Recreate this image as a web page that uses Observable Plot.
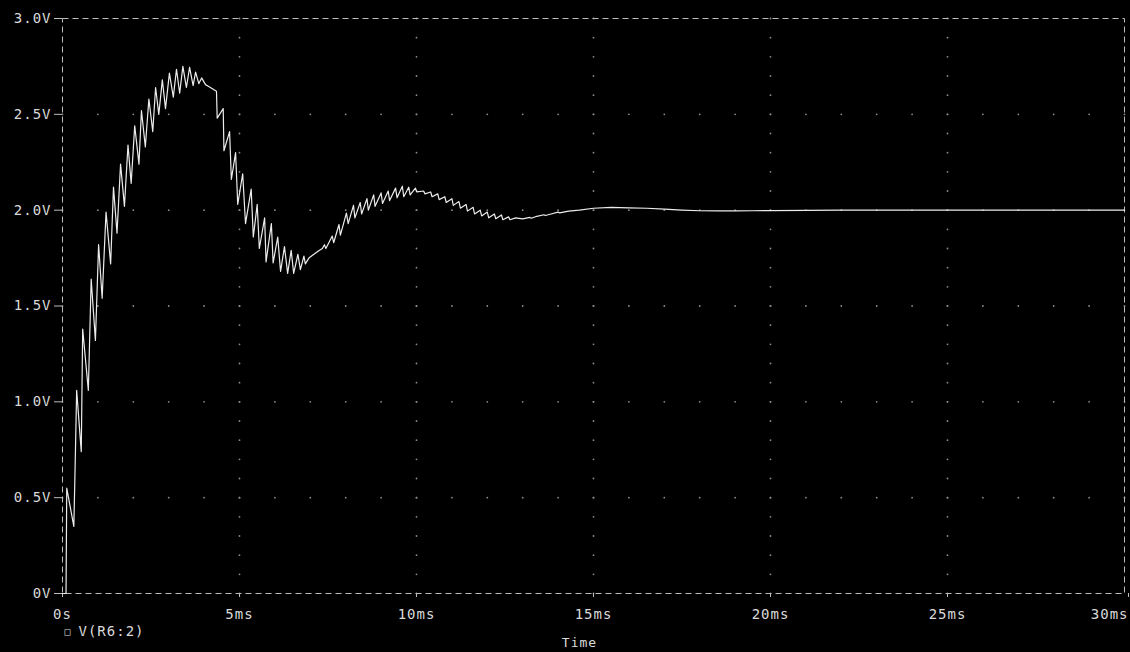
<!DOCTYPE html>
<html><head><meta charset="utf-8">
<script src="https://cdn.jsdelivr.net/npm/d3@7"></script>
<script src="https://cdn.jsdelivr.net/npm/@observablehq/plot@0.6"></script>
<style>
html,body{margin:0;padding:0;background:#000;}
#chart{width:1130px;height:652px;overflow:hidden;background:#000;}
</style></head><body><div id="chart"></div>
<script>
// ---- data ----
const timeMs = [
  0, 0.10, 0.12, 0.32, 0.36, 0.40, 0.53, 0.57, 0.73, 0.81, 0.93,
  1.02, 1.12, 1.23, 1.36, 1.44, 1.54, 1.64, 1.75, 1.85, 1.94,
  2.04, 2.16, 2.23, 2.34, 2.44, 2.55, 2.63, 2.72, 2.82, 2.91,
  3.02, 3.13, 3.22, 3.31, 3.40, 3.50, 3.59, 3.69, 3.76, 3.85, 3.93,
  4.04, 4.13, 4.35, 4.37, 4.54, 4.56, 4.72, 4.77, 4.89, 4.95,
  5.09, 5.17, 5.33, 5.39, 5.50, 5.56, 5.71, 5.75, 5.90, 5.95,
  6.08, 6.16, 6.27, 6.36, 6.46, 6.53, 6.65, 6.72, 6.82, 6.86, 6.96,
  7.10, 7.25, 7.34, 7.40, 7.44, 7.62, 7.66, 7.81, 7.85,
  8.02, 8.07, 8.22, 8.26, 8.41, 8.45, 8.60, 8.64, 8.79, 8.83,
  9.00, 9.04, 9.20, 9.24, 9.41, 9.45, 9.60, 9.64, 9.78, 9.82, 9.97,
  10.01, 10.20, 10.24, 10.40, 10.44, 10.60, 10.64, 10.80, 10.84,
  11.00, 11.04, 11.20, 11.24, 11.40, 11.44, 11.60, 11.64, 11.80, 11.84,
  12.00, 12.04, 12.20, 12.24, 12.40, 12.44, 12.60, 12.64, 12.80,
  13.00, 13.20, 13.24, 13.40, 13.60, 13.64, 13.80, 14.00, 14.04, 14.30, 14.60,
  15.00, 15.50, 16.00, 16.50, 17.00, 17.50, 18.00, 18.50,
  19.00, 19.50, 20.00, 21.00, 22.00, 30.00
];
const voltage = [
  0, 0, 0.55, 0.35, 0.69, 1.06, 0.74, 1.38, 1.06, 1.64, 1.32,
  1.82, 1.54, 1.99, 1.72, 2.12, 1.88, 2.24, 2.02, 2.34, 2.14,
  2.44, 2.24, 2.52, 2.33, 2.58, 2.41, 2.64, 2.50, 2.68, 2.53,
  2.715, 2.59, 2.735, 2.61, 2.75, 2.64, 2.745, 2.65, 2.72, 2.66, 2.69,
  2.655, 2.645, 2.62, 2.48, 2.53, 2.31, 2.41, 2.16, 2.30, 2.03,
  2.19, 1.93, 2.11, 1.86, 2.03, 1.80, 1.96, 1.73, 1.93, 1.725,
  1.86, 1.68, 1.81, 1.67, 1.79, 1.67, 1.77, 1.69, 1.76, 1.72, 1.75,
  1.77, 1.79, 1.80, 1.82, 1.80, 1.865, 1.83, 1.925, 1.87,
  1.985, 1.93, 2.025, 1.96, 2.04, 1.98, 2.06, 2.00, 2.08, 2.02,
  2.09, 2.035, 2.10, 2.05, 2.115, 2.065, 2.125, 2.07, 2.12, 2.08, 2.115,
  2.095, 2.10, 2.085, 2.095, 2.07, 2.085, 2.055, 2.07, 2.04,
  2.06, 2.025, 2.045, 2.01, 2.03, 1.995, 2.015, 1.98, 2.00, 1.97,
  1.99, 1.96, 1.98, 1.955, 1.975, 1.95, 1.965, 1.95, 1.96,
  1.955, 1.962, 1.958, 1.968, 1.976, 1.972, 1.98, 1.99, 1.986, 1.995, 2.00,
  2.01, 2.015, 2.012, 2.01, 2.005, 2.0, 1.997, 1.996,
  1.996, 1.997, 1.998, 1.999, 2.0, 2.0
];
const xTicks = [0, 5, 10, 15, 20, 25, 30];
const xTickLabels = ["0s", "5ms", "10ms", "15ms", "20ms", "25ms", "30ms"];
const yTicks = [0, 0.5, 1.0, 1.5, 2.0, 2.5, 3.0];
const yTickLabels = ["0V", "0.5V", "1.0V", "1.5V", "2.0V", "2.5V", "3.0V"];
const seriesName = "V(R6:2)";
const xTitle = "Time";
const minorXStep = 1;    // ms between grid dots on horizontal grid lines
const minorYStep = 0.1;  // V between grid dots on vertical grid lines

// ---- build tables ----
const wave = timeMs.map((t, i) => ({t, v: voltage[i]}));
const gridDots = [];
for (const yv of yTicks.slice(1, -1))
  for (const xv of d3.range(0, 30 + 1e-9, minorXStep)) gridDots.push({x: xv, y: yv});
for (const xv of xTicks.slice(1, -1))
  for (const yv of d3.range(0, 3 + 1e-9, minorYStep)) gridDots.push({x: xv, y: yv});

const FONT = "DejaVu Sans Mono, Liberation Mono, monospace";
const TXT = "#dadada";
const xFmt = d => xTickLabels[xTicks.indexOf(d)];
const yFmt = d => yTickLabels[yTicks.indexOf(d)];

const chart = Plot.plot({
  width: 1130, height: 652,
  marginLeft: 62, marginRight: 6, marginTop: 18, marginBottom: 59,
  style: {background: "#000", color: TXT, fontFamily: FONT, fontSize: "14px", letterSpacing: "1px"},
  x: {domain: [0, 30]},
  y: {domain: [0, 3]},
  marks: [
    Plot.dot(gridDots, {x: "x", y: "y", r: 0.9, fill: "#8c8c8c", stroke: null}),
    Plot.frame({stroke: "#bdbdbd", strokeDasharray: "6,4", strokeWidth: 1}),
    Plot.axisY(yTicks, {tickFormat: yFmt, tickSize: 8, tickPadding: 3, stroke: "#bdbdbd", fill: TXT, label: null, fontSize: 14}),
    Plot.axisX(xTicks.slice(0, -1), {tickFormat: xFmt, tickSize: 4, tickPadding: 12, stroke: "#bdbdbd", fill: TXT, label: null, fontSize: 14, anchor: "bottom"}),
    Plot.axisX([xTicks[xTicks.length - 1]], {tickFormat: xFmt, tickSize: 4, tickPadding: 12, stroke: "#bdbdbd", fill: TXT, label: null, fontSize: 14, textAnchor: "end", dx: 4, anchor: "bottom"}),
    Plot.line(wave, {x: "t", y: "v", stroke: "#ececec", strokeWidth: 1.2, curve: "linear"}),
    Plot.text([seriesName], {frameAnchor: "bottom-left", text: d => "\u25A1", dx: 2, dy: 38, textAnchor: "start", lineAnchor: "middle", fill: TXT, fontSize: 10}),
    Plot.text([seriesName], {frameAnchor: "bottom-left", text: d => d, dx: 16, dy: 38, textAnchor: "start", lineAnchor: "middle", fill: TXT, fontSize: 14}),
    Plot.text([xTitle], {frameAnchor: "bottom", text: d => d, dx: -14, dy: 49, lineAnchor: "middle", fill: TXT, fontSize: 13})
  ]
});
document.getElementById("chart").appendChild(chart);
</script>
</body></html>
